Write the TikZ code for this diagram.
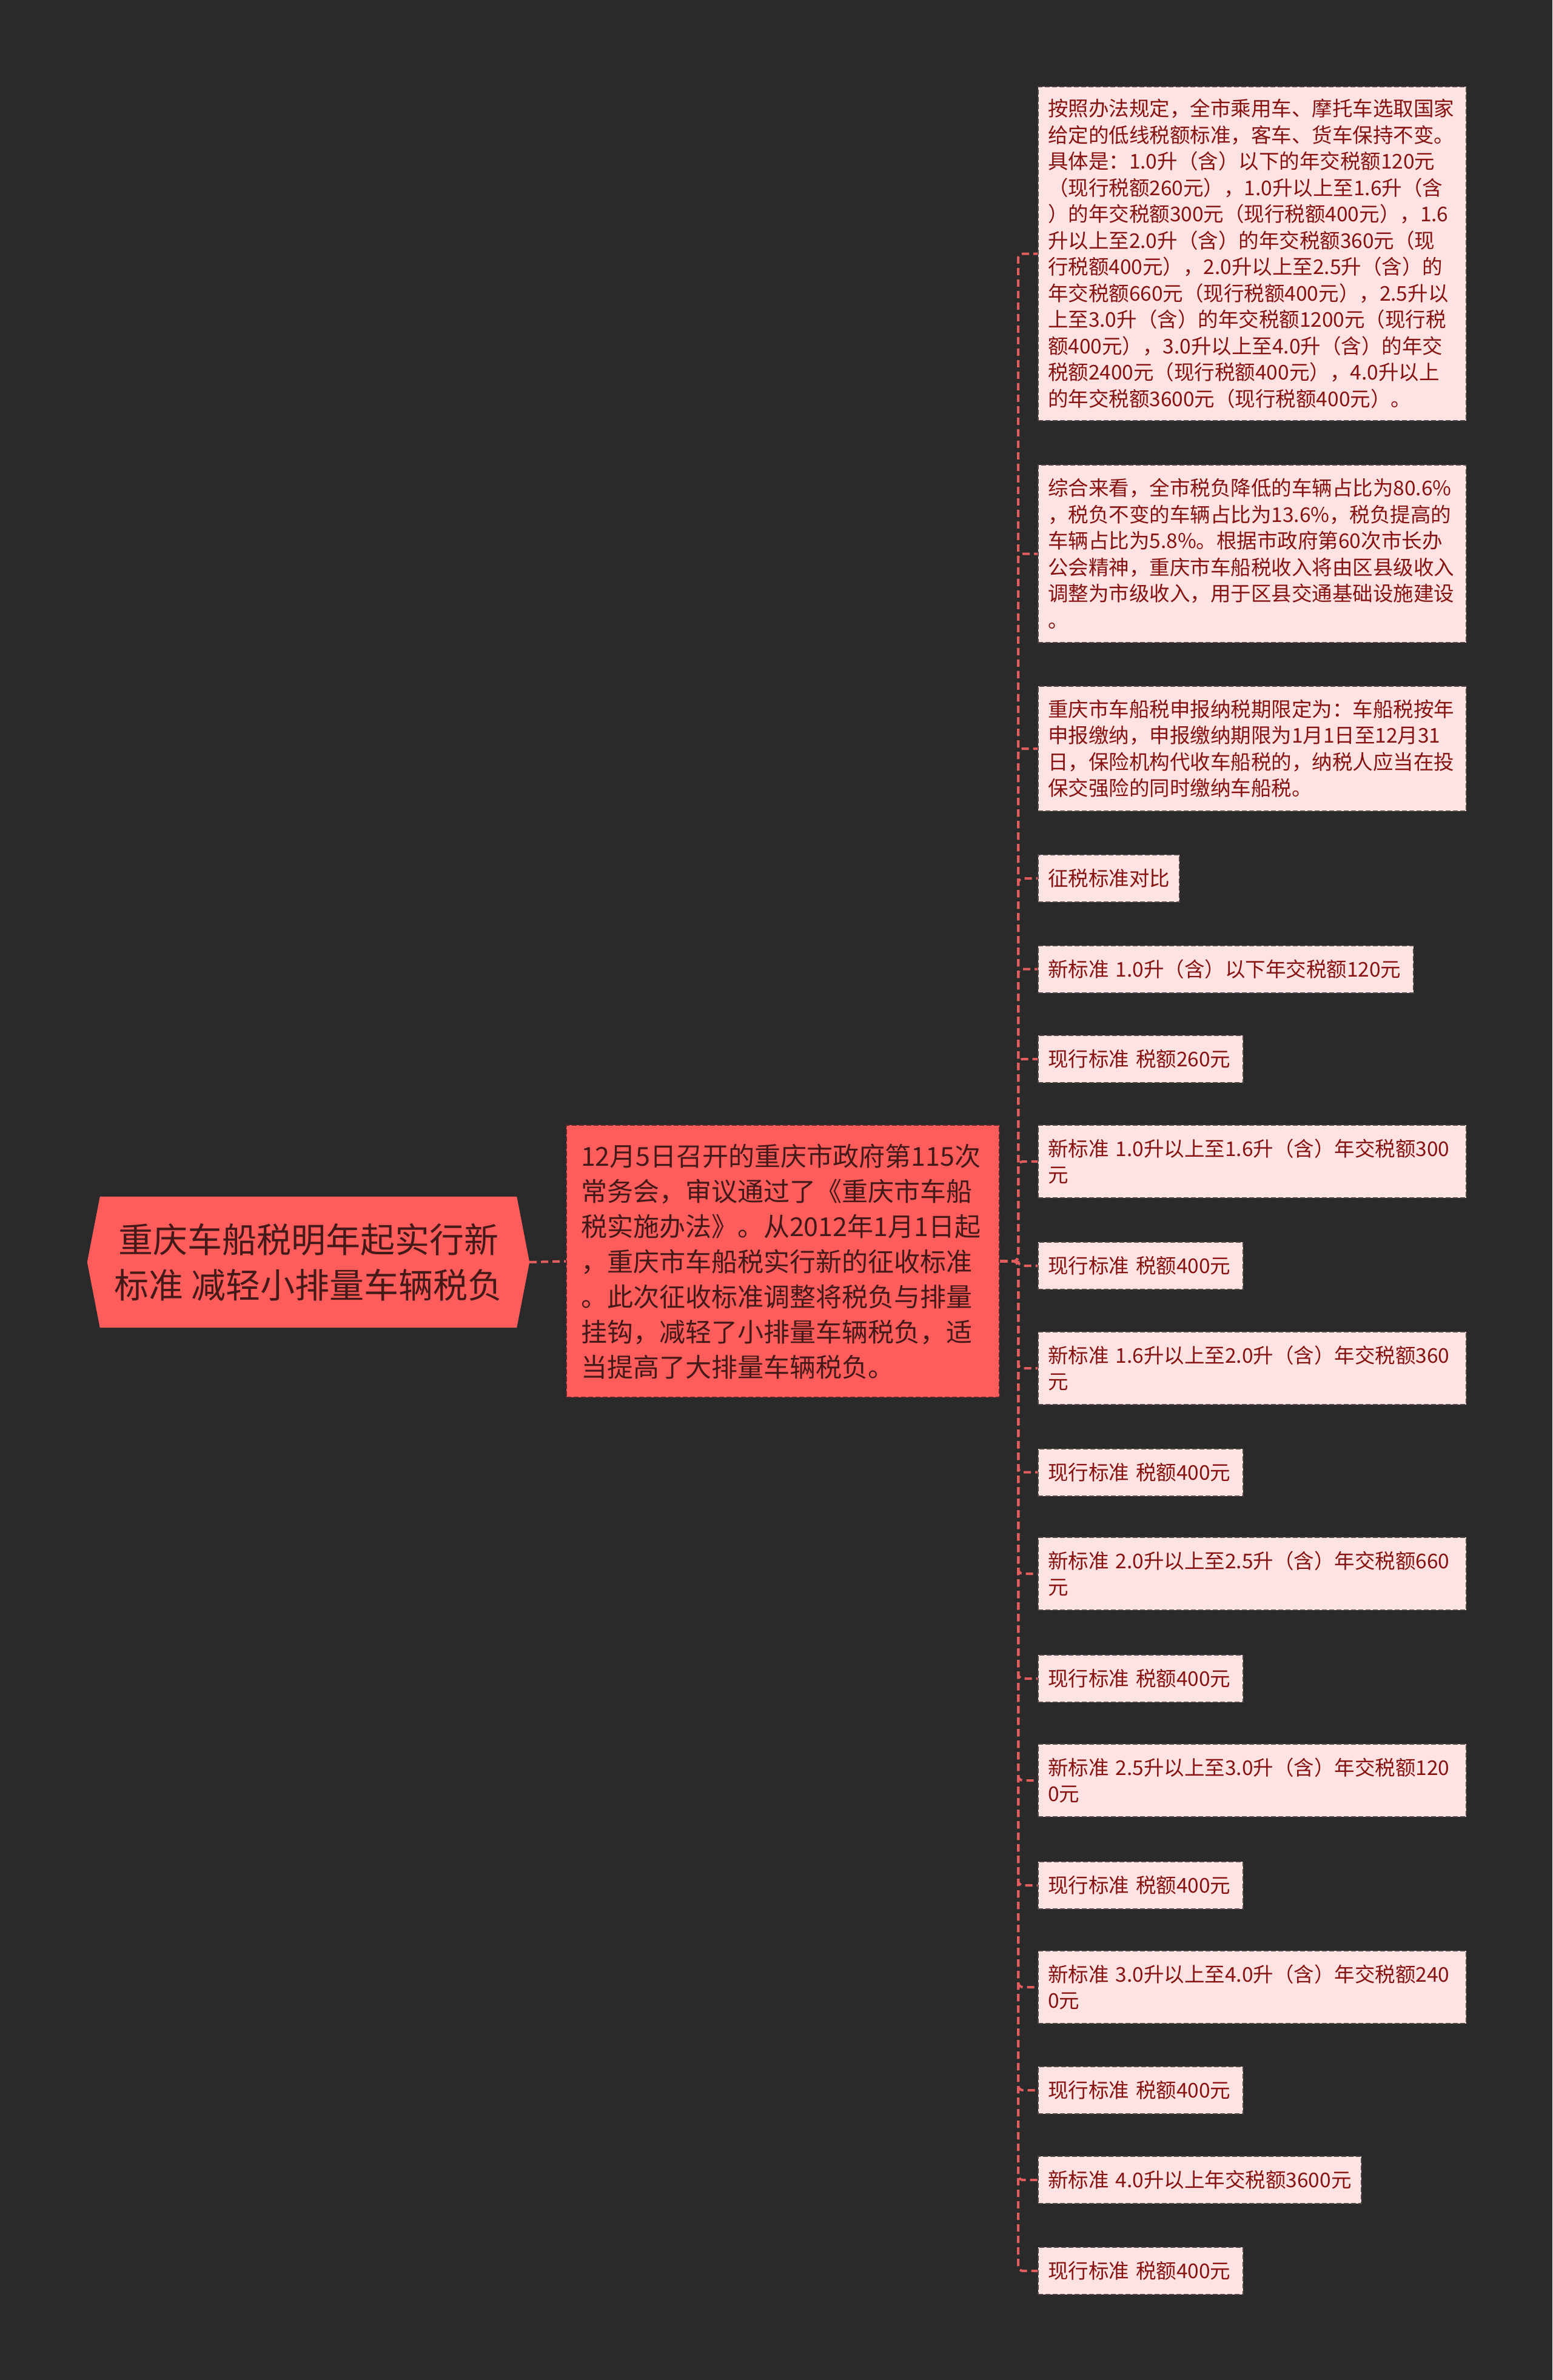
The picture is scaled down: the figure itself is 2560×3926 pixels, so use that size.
\documentclass[tikz,border=0pt]{standalone}
\usepackage{fontspec}
\setmainfont{Noto Sans CJK SC}
\usetikzlibrary{calc}
\definecolor{bgc}{RGB}{42,42,42}
\definecolor{rootfill}{RGB}{255,92,92}
\definecolor{roottext}{RGB}{70,25,25}
\definecolor{mainborder}{RGB}{90,40,40}
\definecolor{leaffill}{RGB}{255,226,226}
\definecolor{leafborder}{RGB}{80,68,68}
\definecolor{leaftext}{RGB}{135,18,18}
\definecolor{linkc}{RGB}{226,94,94}
\pgfdeclarelayer{back}
\pgfsetlayers{back,main}
\tikzset{
  roottxt/.style={shape=rectangle, minimum width=687, minimum height=216, inner sep=0,
    align=center, text=roottext, font=\fontsize{57}{75}\selectfont},
  mainbox/.style={shape=rectangle, fill=rootfill, draw=mainborder, dash pattern=on 8pt off 4pt,
    line width=2, text=roottext, align=left, inner xsep=24, inner ysep=0,
    text width=666, minimum height=449, font=\fontsize{43}{58}\selectfont},
  leaf/.style={shape=rectangle, fill=leaffill, draw=leafborder, dash pattern=on 8pt off 4pt,
    line width=2, text=leaftext, align=left, inner xsep=16, inner ysep=0, anchor=west,
    font=\fontsize{33.5}{43.5}\selectfont},
  wide/.style={leaf, text width=674},
  link/.style={draw=linkc, line width=4, dash pattern=on 12pt off 7pt, rounded corners=8}
}
\begin{document}
\begin{tikzpicture}[x=1pt,y=-1pt]
\useasboundingbox (0,0) rectangle (2560,3926);
\node[roottxt] (root) at (508.5,2082) {重庆车船税明年起实行新\\标准 减轻小排量车辆税负};
\coordinate (roottip) at ($(root.east)+(21,0)$);
\begin{pgfonlayer}{back}
\fill[bgc] (0,0) rectangle (2560,3926);
\fill[rootfill] (root.north west) -- (root.north east) -- (roottip) -- (root.south east)
  -- (root.south west) -- ($(root.west)+(-21,0)$) -- cycle;
\end{pgfonlayer}
\node[mainbox] (main) at (1291,2080.5) {12月5日召开的重庆市政府第115次\\常务会，审议通过了《重庆市车船\\税实施办法》。从2012年1月1日起\\，重庆市车船税实行新的征收标准\\。此次征收标准调整将税负与排量\\挂钩，减轻了小排量车辆税负，适\\当提高了大排量车辆税负。};

\node[wide, minimum height=551] (l1) at (1711,418.5) {按照办法规定，全市乘用车、摩托车选取国家\\给定的低线税额标准，客车、货车保持不变。\\具体是：1.0升（含）以下的年交税额120元\\（现行税额260元），1.0升以上至1.6升（含\\）的年交税额300元（现行税额400元），1.6\\升以上至2.0升（含）的年交税额360元（现\\行税额400元），2.0升以上至2.5升（含）的\\年交税额660元（现行税额400元），2.5升以\\上至3.0升（含）的年交税额1200元（现行税\\额400元），3.0升以上至4.0升（含）的年交\\税额2400元（现行税额400元），4.0升以上\\的年交税额3600元（现行税额400元）。};
\node[wide, minimum height=293] (l2) at (1711,913.5) {综合来看，全市税负降低的车辆占比为80.6\%\\，税负不变的车辆占比为13.6\%，税负提高的\\车辆占比为5.8\%。根据市政府第60次市长办\\公会精神，重庆市车船税收入将由区县级收入\\调整为市级收入，用于区县交通基础设施建设\\。};
\node[wide, minimum height=206] (l3) at (1711,1235) {重庆市车船税申报纳税期限定为：车船税按年\\申报缴纳，申报缴纳期限为1月1日至12月31\\日，保险机构代收车船税的，纳税人应当在投\\保交强险的同时缴纳车船税。};
\node[leaf, text width=201, minimum height=78] (l4) at (1711,1449) {征税标准对比};
\node[leaf, text width=587, minimum height=78] (l5) at (1711,1598.5) {新标准 1.0升（含）以下年交税额120元};
\node[leaf, text width=306, minimum height=78] (l6) at (1711,1747) {现行标准 税额260元};
\node[wide, minimum height=120] (l7) at (1711,1916) {新标准 1.0升以上至1.6升（含）年交税额300\\元};
\node[leaf, text width=306, minimum height=78] (l8) at (1711,2088) {现行标准 税额400元};
\node[wide, minimum height=120] (l9) at (1711,2257) {新标准 1.6升以上至2.0升（含）年交税额360\\元};
\node[leaf, text width=306, minimum height=78] (l10) at (1711,2428.5) {现行标准 税额400元};
\node[wide, minimum height=120] (l11) at (1711,2596) {新标准 2.0升以上至2.5升（含）年交税额660\\元};
\node[leaf, text width=306, minimum height=78] (l12) at (1711,2769) {现行标准 税额400元};
\node[wide, minimum height=120] (l13) at (1711,2937) {新标准 2.5升以上至3.0升（含）年交税额120\\0元};
\node[leaf, text width=306, minimum height=78] (l14) at (1711,3110) {现行标准 税额400元};
\node[wide, minimum height=120] (l15) at (1711,3278) {新标准 3.0升以上至4.0升（含）年交税额240\\0元};
\node[leaf, text width=306, minimum height=78] (l16) at (1711,3448) {现行标准 税额400元};
\node[leaf, text width=501, minimum height=78] (l17) at (1711,3596) {新标准 4.0升以上年交税额3600元};
\node[leaf, text width=306, minimum height=78] (l18) at (1711,3746) {现行标准 税额400元};

\draw[link] (roottip) -- (main.west);
\foreach \n in {l1,l2,l3,l4,l5,l6,l7,l8,l9,l10,l11,l12,l13,l14,l15,l16,l17,l18}
  \draw[link] (main.east) -- ++(30,0) |- (\n.west);
\end{tikzpicture}
\end{document}
